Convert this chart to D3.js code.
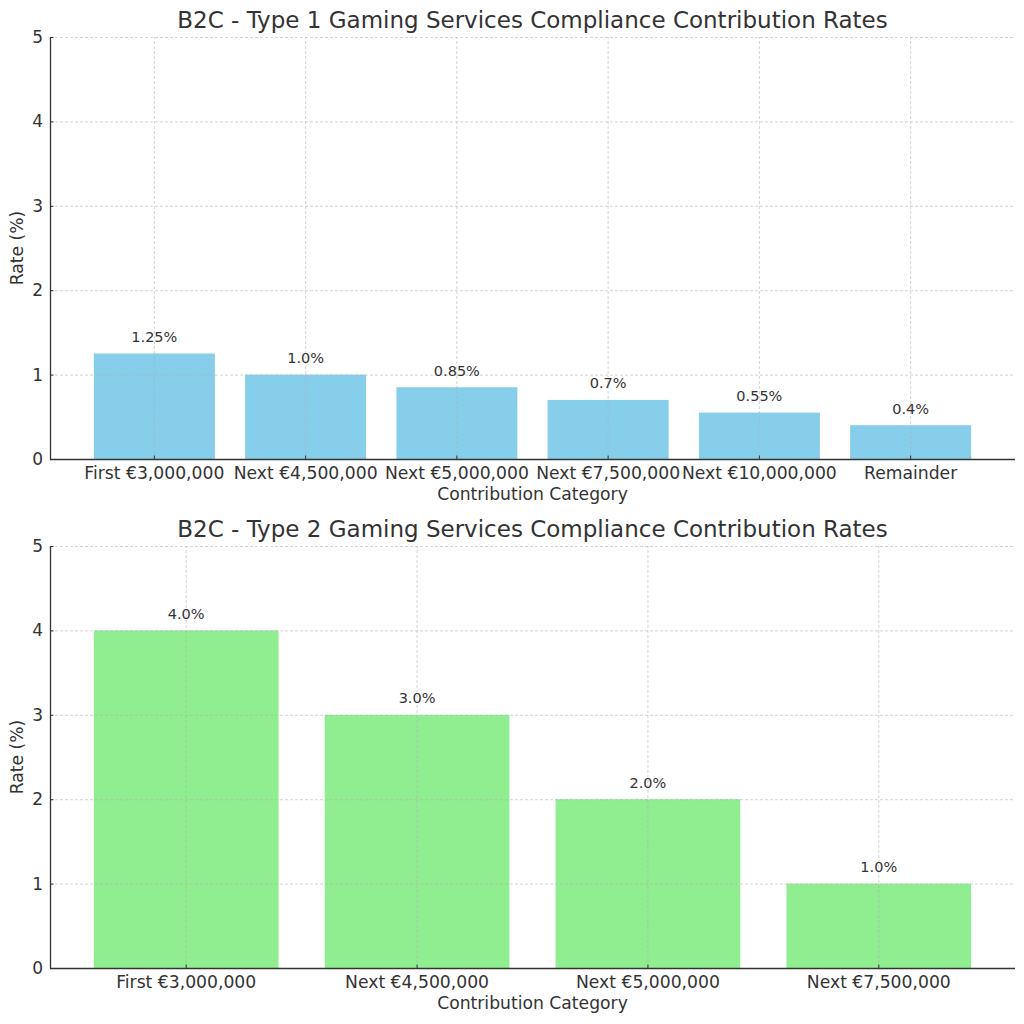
<!DOCTYPE html>
<html><head><meta charset="utf-8">
<script src="https://cdn.jsdelivr.net/npm/d3@7"></script>
<style>body{margin:0;background:#fff}svg{display:block}text{font-family:"DejaVu Sans",sans-serif;fill:#333}</style>
</head><body>
<svg id="c" width="1024" height="1024"></svg>
<script>
const title1 = "B2C - Type 1 Gaming Services Compliance Contribution Rates";
const categories1 = ["First €3,000,000","Next €4,500,000","Next €5,000,000","Next €7,500,000","Next €10,000,000","Remainder"];
const values1 = [1.25, 1.0, 0.85, 0.7, 0.55, 0.4];
const labels1 = ["1.25%","1.0%","0.85%","0.7%","0.55%","0.4%"];
const title2 = "B2C - Type 2 Gaming Services Compliance Contribution Rates";
const categories2 = ["First €3,000,000","Next €4,500,000","Next €5,000,000","Next €7,500,000"];
const values2 = [4.0, 3.0, 2.0, 1.0];
const labels2 = ["4.0%","3.0%","2.0%","1.0%"];
const yTicks = [0,1,2,3,4,5];
const xLabel = "Contribution Category";
const yLabel = "Rate (%)";

const svg = d3.select("#c");

function panel(top, bottom, title, cats, vals, labs, color) {
  const left = 50, right = 1015;
  const n = cats.length;
  const po = 0.05*(n-0.2);
  const x = d3.scaleBand().domain(cats).range([left, right]).paddingInner(0.2).paddingOuter(po);
  const y = d3.scaleLinear().domain([0,5]).range([bottom, top]);
  const g = svg.append("g");
  // bars
  g.selectAll("rect.bar").data(vals).enter().append("rect")
    .attr("x", (d,i)=>x(cats[i])).attr("width", x.bandwidth())
    .attr("y", d=>y(d)).attr("height", d=>bottom - y(d)).attr("fill", color);
  // grid
  const gy = g.append("g").attr("transform",`translate(${left},0)`)
    .call(d3.axisLeft(y).tickValues(yTicks).tickSize(-(right-left)).tickFormat(""));
  gy.select(".domain").remove();
  gy.selectAll("line").attr("stroke","#b0b0b0").attr("stroke-opacity",0.7).attr("stroke-dasharray","3,2").attr("stroke-width",0.8);
  const gx = g.append("g").attr("transform",`translate(0,${bottom})`)
    .call(d3.axisBottom(x).tickSize(-(bottom-top)).tickFormat(""));
  gx.select(".domain").remove();
  gx.selectAll("line").attr("stroke","#b0b0b0").attr("stroke-opacity",0.7).attr("stroke-dasharray","3,2").attr("stroke-width",0.8);
  // axes
  const ay = g.append("g").attr("transform",`translate(${left},0)`)
    .call(d3.axisLeft(y).tickValues(yTicks).tickFormat(d3.format("d")).tickSizeInner(-3.5).tickSizeOuter(0).tickPadding(7));
  ay.select(".domain").attr("stroke","#333").attr("stroke-width",1.3);
  ay.selectAll(".tick line").attr("stroke","#333");
  ay.selectAll("text").style("font-size","17px").attr("fill","#333").style("font-family","DejaVu Sans");
  const ax = g.append("g").attr("transform",`translate(0,${bottom})`)
    .call(d3.axisBottom(x).tickSizeInner(-3.5).tickSizeOuter(0).tickPadding(7.5));
  ax.select(".domain").attr("stroke","#333").attr("stroke-width",1.3).attr("d",`M${left},0.5H${right}`);
  ax.selectAll(".tick line").attr("stroke","#333");
  ax.selectAll("text").style("font-size","17.2px").attr("fill","#333").style("font-family","DejaVu Sans");
  // value labels
  g.selectAll("text.val").data(vals).enter().append("text").attr("class","val")
    .attr("x",(d,i)=>x(cats[i])+x.bandwidth()/2).attr("y",d=>y(d)-11.5)
    .attr("text-anchor","middle").style("font-size","14.5px").text((d,i)=>labs[i]);
  // title
  g.append("text").attr("x",(left+right)/2).attr("y",top-9).attr("text-anchor","middle")
    .style("font-size","23px").text(title);
  g.append("text").attr("x",(left+right)/2).attr("y",bottom+41).attr("text-anchor","middle")
    .style("font-size","17.2px").text(xLabel);
  g.append("text").attr("transform",`translate(23,${(top+bottom)/2}) rotate(-90)`).attr("text-anchor","middle")
    .style("font-size","17.2px").text(yLabel);
}
panel(37, 459, title1, categories1, values1, labels1, "#87CEEB");
panel(546, 968, title2, categories2, values2, labels2, "#90EE90");
</script>
</body></html>
